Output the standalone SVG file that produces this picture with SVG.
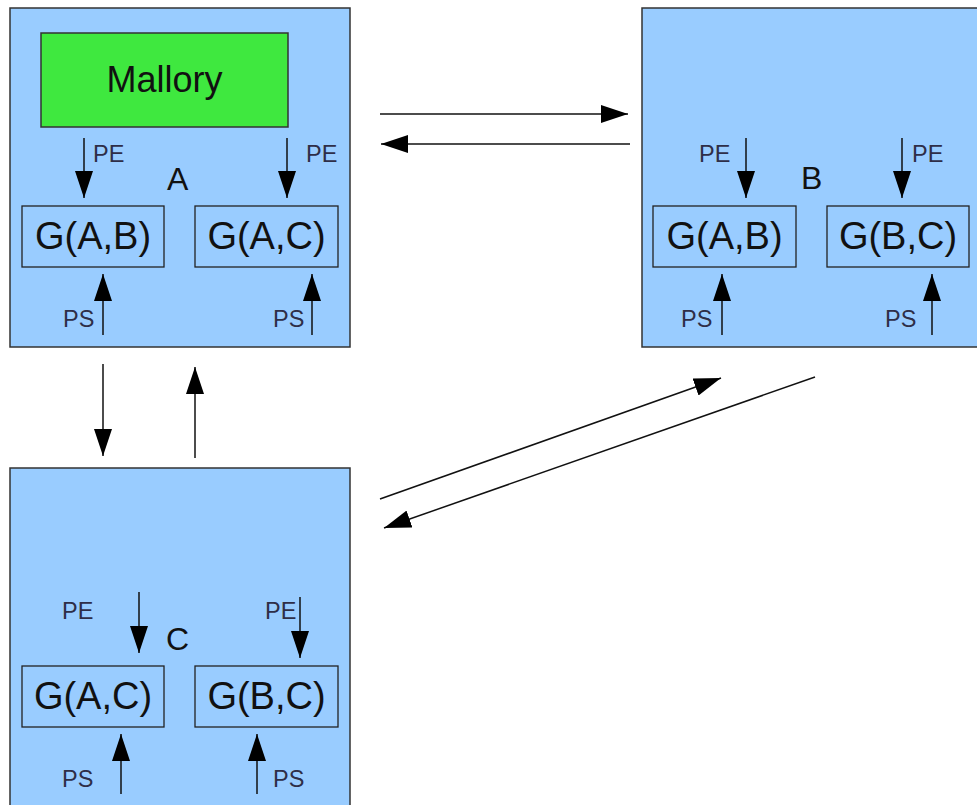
<svg xmlns="http://www.w3.org/2000/svg" width="977" height="805" viewBox="0 0 977 805">
  <style>
    .host { fill: #99ccff; stroke: #333; stroke-width: 1.5; }
    .gbox { fill: none; stroke: #222; stroke-width: 1.3; }
    .mal { fill: #3fe83f; stroke: #333; stroke-width: 1.5; }
    .big { font-family: "Liberation Sans", Arial, sans-serif; font-size: 38px; fill: #111; text-anchor: middle; }
    .name { font-family: "Liberation Sans", Arial, sans-serif; font-size: 32px; fill: #111; }
    .lbl { font-family: "Liberation Sans", Arial, sans-serif; font-size: 23.5px; fill: #2e2e48; }
    .arr { stroke: #111; stroke-width: 1.5; fill: none; marker-end: url(#head); }
  </style>
  <defs>
    <marker id="head" viewBox="0 0 27 18" markerWidth="27" markerHeight="18" refX="27" refY="9" orient="auto" markerUnits="userSpaceOnUse">
      <path d="M0,0 L27,9 L0,18 z" fill="#000"/>
    </marker>
  </defs>

  <!-- host A -->
  <g id="host-a">
    <rect class="host" x="10" y="8" width="340" height="339"/>
    <rect class="mal" x="41" y="33" width="247" height="94"/>
    <text class="big" x="164.5" y="92" style="font-size:36px">Mallory</text>
    <text class="name" x="167" y="190">A</text>
    <rect class="gbox" x="22" y="206" width="142" height="61"/>
    <text class="big" x="93" y="249">G(A,B)</text>
    <rect class="gbox" x="195" y="206" width="143" height="61"/>
    <text class="big" x="266.5" y="249">G(A,C)</text>
    <path class="arr" d="M84,138 V198"/>
    <path class="arr" d="M287,138 V198"/>
    <path class="arr" d="M103,335 V274"/>
    <path class="arr" d="M312,335 V274"/>
    <text class="lbl" x="93" y="162">PE</text>
    <text class="lbl" x="306" y="162">PE</text>
    <text class="lbl" x="63" y="327">PS</text>
    <text class="lbl" x="273" y="327">PS</text>
  </g>

  <!-- host B -->
  <g id="host-b">
    <rect class="host" x="642" y="8" width="345" height="339"/>
    <text class="name" x="801" y="189">B</text>
    <rect class="gbox" x="653" y="206" width="143" height="61"/>
    <text class="big" x="724.5" y="249">G(A,B)</text>
    <rect class="gbox" x="827" y="206" width="142" height="61"/>
    <text class="big" x="898" y="249">G(B,C)</text>
    <path class="arr" d="M746,138 V198"/>
    <path class="arr" d="M902,138 V198"/>
    <path class="arr" d="M722,335 V274"/>
    <path class="arr" d="M932,335 V274"/>
    <text class="lbl" x="699" y="162">PE</text>
    <text class="lbl" x="912" y="162">PE</text>
    <text class="lbl" x="681" y="327">PS</text>
    <text class="lbl" x="885" y="327">PS</text>
  </g>

  <!-- host C -->
  <g id="host-c">
    <rect class="host" x="10" y="468" width="340" height="345"/>
    <text class="name" x="166" y="650">C</text>
    <rect class="gbox" x="22" y="666" width="142" height="61"/>
    <text class="big" x="93" y="709">G(A,C)</text>
    <rect class="gbox" x="195" y="666" width="143" height="61"/>
    <text class="big" x="266.5" y="709">G(B,C)</text>
    <path class="arr" d="M139,592 V653"/>
    <path class="arr" d="M300,597 V658"/>
    <path class="arr" d="M121,794 V734"/>
    <path class="arr" d="M257,794 V734"/>
    <text class="lbl" x="62" y="619">PE</text>
    <text class="lbl" x="265" y="619">PE</text>
    <text class="lbl" x="62" y="787">PS</text>
    <text class="lbl" x="273" y="787">PS</text>
  </g>

  <!-- links between hosts -->
  <g id="connectors">
    <path class="arr" d="M380,114 H628"/>
    <path class="arr" d="M630,144 H381"/>
    <path class="arr" d="M103,364 V456"/>
    <path class="arr" d="M195,458 V367"/>
    <path class="arr" d="M380,499 L721,378"/>
    <path class="arr" d="M815,377 L384,528"/>
  </g>
</svg>
